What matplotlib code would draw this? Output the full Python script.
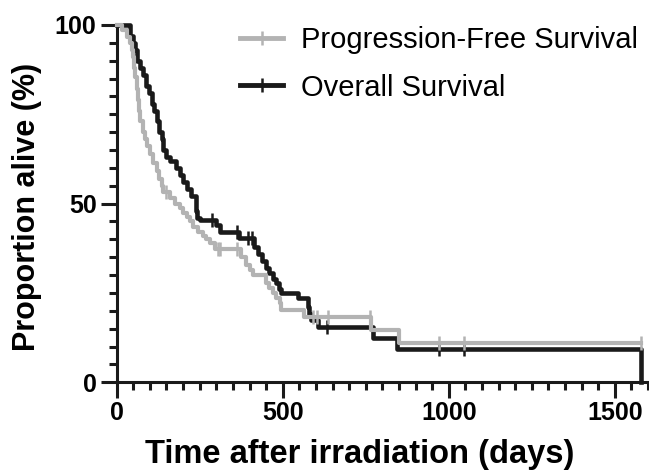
import matplotlib.pyplot as plt
from matplotlib.ticker import MultipleLocator
from matplotlib.lines import Line2D

plt.rcParams['font.family'] = ['Liberation Sans', 'DejaVu Sans']

# Kaplan-Meier steps (days, % alive after the step)
os_days = [0, 40, 48, 55, 62, 70, 78, 88, 97, 105, 112, 120, 128, 135, 140, 150,
           160, 180, 192, 200, 212, 225, 238, 243, 250, 300, 310, 368, 415, 425,
           438, 450, 460, 470, 480, 490, 496, 545, 576, 580, 585, 606, 773, 843, 1580]
os_surv = [100, 97, 95, 93, 90, 88, 86, 83, 81, 78, 76, 73, 70, 68, 65, 63,
           62, 60, 58, 56, 54, 52, 48, 46, 45.4, 44, 42.2, 40.5, 38, 36,
           34, 32, 30.5, 29, 27.7, 26, 24.9, 23.5, 21, 19, 17.4, 15.4, 12.5, 9.3, 0]
os_cens_days = [286, 361, 396, 406, 632, 972, 1047]

pfs_days = [0, 15, 30, 40, 45, 50, 53, 56, 60, 63, 67, 70, 78, 85, 92, 100,
            110, 120, 128, 135, 140, 160, 175, 190, 200, 211, 220, 231, 245, 261,
            270, 281, 295, 375, 388, 400, 411, 451, 460, 471, 480, 491, 496, 563,
            766, 851, 1580]
pfs_surv = [100, 98.5, 96.7, 95, 93, 91, 88, 85.5, 82, 79, 76, 73, 70, 68, 66, 64,
            61.5, 59, 57, 55, 53.3, 51.5, 50, 48.7, 47.5, 46.3, 45, 43.5, 42.2, 41,
            40, 38.9, 37.2, 35.2, 32.8, 31.5, 30, 27.7, 26.3, 24.9, 23.5, 22.1, 20.2, 18.4,
            14.6, 11.1, 11.1]
pfs_cens_days = [150, 305, 311, 361, 592, 602, 637, 764, 972, 1047, 1580]


def level_at(days, surv, t):
    val = surv[0]
    for d, s in zip(days, surv):
        if d <= t:
            val = s
    return val


gray = '#b3b3b3'
black = '#1a1a1a'

fig = plt.figure(figsize=(6.49, 4.73), dpi=100)
ax = fig.add_axes([0.1798, 0.1917, 0.8186, 0.7556])

ax.step(pfs_days, pfs_surv, where='post', color=gray, lw=3.0, clip_on=False, zorder=3)
ax.plot(pfs_cens_days, [level_at(pfs_days, pfs_surv, t) for t in pfs_cens_days],
        ls='none', marker='|', ms=10, mew=1.8, color=gray, clip_on=False, zorder=3)

ax.step(os_days, os_surv, where='post', color=black, lw=3.3, clip_on=False, zorder=2)
ax.plot(os_cens_days, [level_at(os_days, os_surv, t) for t in os_cens_days],
        ls='none', marker='|', ms=10, mew=1.8, color=black, clip_on=False, zorder=2)

ax.set_xlim(0, 1600)
ax.set_ylim(0, 100)
ax.xaxis.set_major_locator(MultipleLocator(500))
ax.xaxis.set_minor_locator(MultipleLocator(50))
ax.yaxis.set_major_locator(MultipleLocator(50))
ax.yaxis.set_minor_locator(MultipleLocator(5))

for side in ['top', 'right']:
    ax.spines[side].set_visible(False)
for side in ['left', 'bottom']:
    ax.spines[side].set_linewidth(2.2)
    ax.spines[side].set_color(black)

ax.tick_params(which='major', length=11.5, width=2.2, color=black, pad=3)
ax.tick_params(which='minor', length=6, width=2.2, color=black)
ax.tick_params(axis='x', which='major', pad=2)
for lab in ax.get_xticklabels() + ax.get_yticklabels():
    lab.set_fontsize(18)
    lab.set_fontweight('bold')

ax.set_xlabel('Time after irradiation (days)', fontsize=23.5, fontweight='bold')
ax.set_ylabel('Proportion alive (%)', fontsize=22, fontweight='bold')
ax.xaxis.set_label_coords(0.458, -0.158)
ax.yaxis.set_label_coords(-0.1406, 0.49)

handles = [Line2D([], [], color=gray, lw=3.5, marker='|', ms=10, mew=1.8),
           Line2D([], [], color=black, lw=3.5, marker='|', ms=10, mew=1.8)]
fig.legend(handles, ['Progression-Free Survival', 'Overall Survival'],
           loc='upper left', bbox_to_anchor=(0.330, 1.0), frameon=False,
           fontsize=21, handlelength=1.45, handletextpad=0.62, labelspacing=0.66)

fig.savefig('out.png', dpi=100)
